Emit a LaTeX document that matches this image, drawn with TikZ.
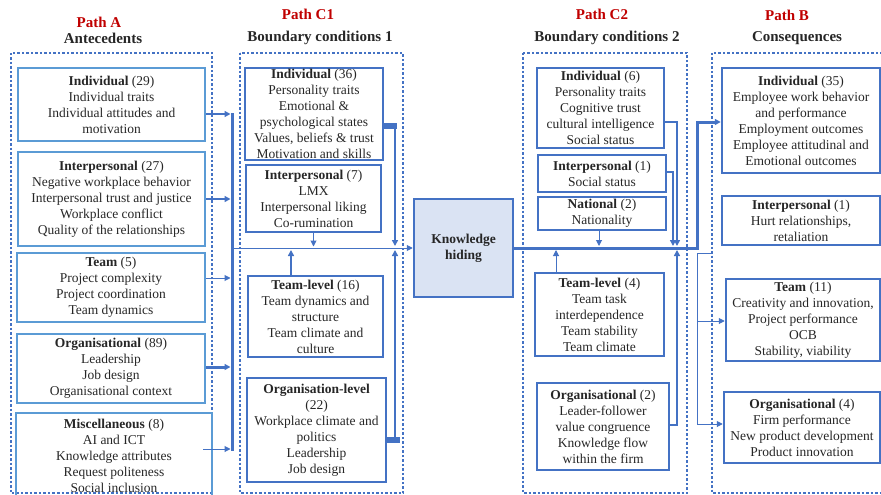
\documentclass[tikz,border=0pt]{standalone}
\usepackage{fontspec}
\setmainfont{Liberation Serif}
\usetikzlibrary{arrows.meta}
\definecolor{kblue}{RGB}{68,114,196}
\definecolor{lblue}{RGB}{91,155,213}
\definecolor{khfill}{RGB}{218,227,243}
\definecolor{pathred}{RGB}{192,0,0}
\definecolor{txtgray}{RGB}{38,38,38}

\begin{document}
\begin{tikzpicture}[x=1pt,y=-1pt]
	\tikzstyle{frame} = [draw=kblue, line width=2.5pt, dash pattern=on 2.5pt off 2pt]
	\tikzstyle{title} = [font=\fontsize{15}{18}\selectfont\bfseries, text=txtgray]
	\tikzstyle{box_a} = [rectangle, draw=lblue, line width=2.5pt, inner sep=0pt, align=center, text=txtgray, font=\fontsize{13.5}{16}\selectfont]
	\tikzstyle{box_b} = [box_a, draw=kblue]
	\tikzstyle{link} = [draw=kblue, -{Triangle[length=6pt,width=6pt]}]
	\tikzstyle{plain_link} = [draw=kblue]

	\useasboundingbox (0,0) rectangle (881,495);

	% Path A: antecedents
	\node[title, text=pathred] (pathA) at (99,22) {Path A};
	\node[title] (headA) at (103,38) {Antecedents};
	\draw[frame] (11,53) rectangle (212,493);
	\node[box_a, minimum width=187pt, minimum height=73pt] (aInd) at (111.5,104.5) {\textbf{Individual} (29)\\Individual traits\\Individual attitudes and\\motivation};
	\node[box_a, minimum width=187pt, minimum height=94pt] (aPer) at (111.5,199) {\textbf{Interpersonal} (27)\\Negative workplace behavior\\Interpersonal trust and justice\\Workplace conflict\\Quality of the relationships};
	\node[box_a, minimum width=188pt, minimum height=69pt] (aTeam) at (111,287.5) {\textbf{Team} (5)\\Project complexity\\Project coordination\\Team dynamics};
	\node[box_a, minimum width=188pt, minimum height=69pt] (aOrg) at (111,368.5) {\textbf{Organisational} (89)\\Leadership\\Job design\\Organisational context};
	\node[box_a, minimum width=196pt, minimum height=86pt] (aMisc) at (114,456) {\textbf{Miscellaneous} (8)\\AI and ICT\\Knowledge attributes\\Request politeness\\Social inclusion};

	% Path C1: boundary conditions 1
	\node[title, text=pathred] (pathC1) at (308,14) {Path C1};
	\node[title] (headC1) at (320,38) {Boundary conditions 1};
	\draw[frame] (240,53) rectangle (403,493);
	\node[box_b, minimum width=138pt, minimum height=92pt] (c1Ind) at (314,114) {\textbf{Individual} (36)\\Personality traits\\Emotional \&\\psychological states\\Values, beliefs \& trust\\Motivation and skills};
	\node[box_b, minimum width=135pt, minimum height=67pt] (c1Per) at (313.5,198.5) {\textbf{Interpersonal} (7)\\LMX\\Interpersonal liking\\Co-rumination};
	\node[box_b, minimum width=135pt, minimum height=81pt] (c1Team) at (315.5,316.5) {\textbf{Team-level} (16)\\Team dynamics and\\structure\\Team climate and\\culture};
	\node[box_b, minimum width=139pt, minimum height=104pt] (c1Org) at (316.5,430) {\textbf{Organisation-level}\\(22)\\Workplace climate and\\politics\\Leadership\\Job design};

	% Knowledge hiding
	\node[box_b, fill=khfill, minimum width=99pt, minimum height=98pt, font=\fontsize{13.5}{16}\selectfont\bfseries] (kh) at (463.5,248) {Knowledge\\hiding};

	% Path C2: boundary conditions 2
	\node[title, text=pathred] (pathC2) at (602,14) {Path C2};
	\node[title] (headC2) at (607,38) {Boundary conditions 2};
	\draw[frame] (523,53) rectangle (687,493);
	\node[box_b, minimum width=127pt, minimum height=80pt] (c2Ind) at (600.5,108) {\textbf{Individual} (6)\\Personality traits\\Cognitive trust\\cultural intelligence\\Social status};
	\node[box_b, minimum width=128pt, minimum height=37pt] (c2Per) at (602,173.5) {\textbf{Interpersonal} (1)\\Social status};
	\node[box_b, minimum width=128pt, minimum height=33pt] (c2Nat) at (602,213.5) {\textbf{National} (2)\\Nationality};
	\node[box_b, minimum width=129pt, minimum height=83pt] (c2Team) at (599.5,314.5) {\textbf{Team-level} (4)\\Team task\\interdependence\\Team stability\\Team climate};
	\node[box_b, minimum width=132pt, minimum height=87pt] (c2Org) at (603,426.5) {\textbf{Organisational} (2)\\Leader-follower\\value congruence\\Knowledge flow\\within the firm};

	% Path B: consequences
	\node[title, text=pathred] (pathB) at (787,15) {Path B};
	\node[title] (headB) at (797,38) {Consequences};
	\draw[frame] (712,53) rectangle (886,493);
	\node[box_b, minimum width=158pt, minimum height=105pt] (bInd) at (801,120.5) {\textbf{Individual} (35)\\Employee work behavior\\and performance\\Employment outcomes\\Employee attitudinal and\\Emotional outcomes};
	\node[box_b, minimum width=158pt, minimum height=49pt] (bPer) at (801,220.5) {\textbf{Interpersonal} (1)\\Hurt relationships,\\retaliation};
	\node[box_b, minimum width=154pt, minimum height=82pt] (bTeam) at (803,320) {\textbf{Team} (11)\\Creativity and innovation,\\Project performance\\OCB\\Stability, viability};
	\node[box_b, minimum width=156pt, minimum height=71pt] (bOrg) at (802,427.5) {\textbf{Organisational} (4)\\Firm performance\\New product development\\Product innovation};

	% Antecedents into the bus
	\coordinate (busTop) at (232,113);
	\coordinate (busBot) at (232,451);
	\draw[plain_link, line width=3pt] (busTop) -- (busBot);
	\draw[link, line width=2pt, shorten >=1.5pt] (aInd.east |- 0,114) -- (busTop |- 0,114);
	\draw[link, line width=2.5pt, shorten >=1.5pt] (aPer.east |- 0,199) -- (busTop |- 0,199);
	\draw[link, line width=1pt, shorten >=1.5pt] (aTeam.east |- 0,278) -- (busTop |- 0,278);
	\draw[link, line width=3pt, shorten >=1.5pt] (aOrg.east |- 0,367) -- (busTop |- 0,367);
	\draw[link, line width=1pt, shorten >=1.5pt] ([xshift=-10pt]aMisc.east |- 0,449) -- (busTop |- 0,449);
	\draw[link, line width=1pt] (busTop |- kh.west) -- (kh.west);

	% Boundary conditions 1 into the main line
	\coordinate (jC1) at (395,248);
	\draw[plain_link, line width=6pt] (c1Ind.east |- 0,125.5) -- ++(13,0);
	\draw[link, line width=2.5pt, shorten >=2pt] (c1Ind.east |- 0,125.5) -| (jC1);
	\draw[plain_link, line width=6pt] (c1Org.east |- 0,440) -- ++(13,0);
	\draw[link, line width=2.5pt, shorten >=2pt] (c1Org.east |- 0,440) -| (jC1);
	\draw[link, line width=1pt, shorten >=1.5pt] (c1Per.south) -- (c1Per.south |- kh.west);
	\draw[link, line width=2pt, shorten >=2pt] ([xshift=-24.5pt]c1Team.north) -- ([xshift=-24.5pt]c1Team.north |- kh.west);

	% Knowledge hiding to consequences
	\coordinate (jB) at (697,248);
	\draw[link, line width=3pt] (kh.east) -- (jB) |- (bInd.west |- 0,122);
	\draw[plain_link, line width=1pt] ([yshift=-5pt]jB) -- (jB |- 0,424);
	\draw[plain_link, line width=1pt] ([yshift=-5pt]jB) -- ++(14,0);
	\draw[link, line width=1pt] (jB |- 0,321) -- (bTeam.west |- 0,321);
	\draw[link, line width=1pt] (jB |- 0,424) -- (bOrg.west |- 0,424);

	% Boundary conditions 2 into the main line
	\coordinate (jC2) at (677,248);
	\draw[link, line width=1.5pt, shorten >=2pt] (c2Ind.east |- 0,122) -| (jC2);
	\draw[link, line width=1.5pt, shorten >=2pt] (c2Per.east |- 0,172) -| (673,248);
	\draw[link, line width=1.5pt, shorten >=2pt] (c2Org.east |- 0,425) -| (jC2);
	\draw[link, line width=1pt, shorten >=2pt] ([xshift=-3pt]c2Nat.south) -- ([xshift=-3pt]c2Nat.south |- kh.east);
	\draw[link, line width=1pt, shorten >=2pt] ([xshift=-43.5pt]c2Team.north) -- ([xshift=-43.5pt]c2Team.north |- kh.east);
\end{tikzpicture}
\end{document}
